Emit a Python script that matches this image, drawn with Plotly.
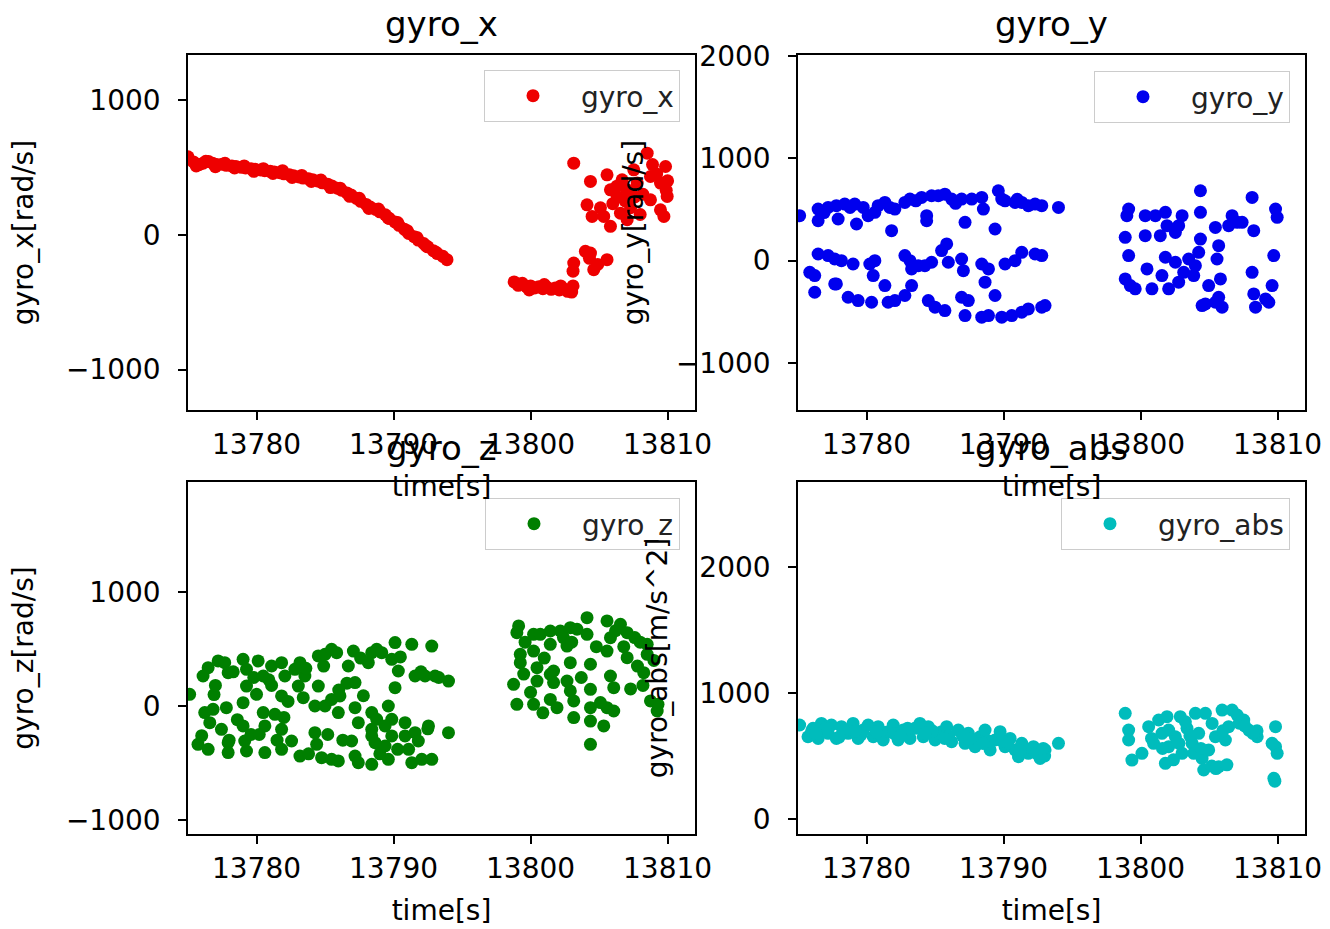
import plotly.graph_objects as go

# ---------------- data ----------------
time_x = [13775.0, 13775.4, 13775.8, 13776.1, 13776.5, 13776.8, 13777.1, 13777.5, 13777.8, 13778.2,
          13778.5, 13778.9, 13779.2, 13779.6, 13779.9, 13780.3, 13780.6, 13781.0, 13781.3, 13781.7,
          13782.0, 13782.4, 13782.7, 13783.1, 13783.4, 13783.8, 13784.1, 13784.5, 13784.8, 13785.2,
          13785.5, 13785.9, 13786.2, 13786.6, 13786.9, 13787.3, 13787.6, 13788.0, 13788.3, 13788.7,
          13789.0, 13789.4, 13789.7, 13790.1, 13790.4, 13790.8, 13791.1, 13791.5, 13791.8, 13792.2,
          13792.5, 13792.9, 13793.2, 13793.6, 13793.9,
          13775.6, 13776.3, 13777.0, 13777.7, 13778.4, 13779.1, 13779.8, 13780.5, 13781.2, 13781.9,
          13782.6, 13783.3, 13784.0, 13784.7, 13785.4, 13786.1, 13786.8, 13787.5, 13788.2, 13788.9,
          13789.6, 13790.3, 13791.0, 13791.7, 13792.4, 13793.1,
          13798.8, 13799.1, 13799.4, 13799.7, 13800.0, 13800.3, 13800.6, 13800.9, 13801.2, 13801.5,
          13801.8, 13802.1, 13802.4, 13802.7, 13803.0, 13803.1, 13799.9, 13801.0, 13802.2,
          13803.1, 13803.15, 13804.3, 13804.37, 13804.61, 13804.9, 13805.58, 13804.0,
          13803.15, 13804.37, 13804.12, 13804.49, 13805.34, 13805.58, 13805.83, 13805.83, 13806.32,
          13806.56, 13806.68, 13807.05, 13807.05, 13807.53, 13807.78, 13808.51, 13808.75, 13808.75,
          13809.48, 13809.48, 13809.85, 13809.73, 13809.97, 13806.0, 13807.3, 13808.2, 13808.0,
          13809.2, 13810.0, 13806.9, 13805.1, 13808.9, 13809.9, 13807.6, 13806.3]
gyro_x = [578, 540, 520, 530, 543, 530, 520, 522, 515, 510,
          506, 500, 495, 490, 485, 480, 475, 470, 466, 460,
          452, 445, 438, 428, 420, 415, 408, 398, 385, 375,
          362, 345, 330, 310, 295, 270, 248, 225, 205, 188,
          170, 148, 120, 95, 70, 40, 10, -15, -40, -65,
          -90, -118, -140, -160, -185,
          510, 545, 505, 530, 495, 510, 470, 490, 455, 475,
          425, 440, 395, 405, 350, 345, 285, 270, 195, 190,
          125, 90, 30, -20, -85, -130,
          -350, -375, -360, -385, -380, -395, -385, -400, -390, -405,
          -395, -410, -400, -420, -425, -380, -410, -370, -380,
          -270, -210, -175, -136, -259, -220, -185, -123,
          531, 395, 222, 136, 136, 444, 333, 62, 284,
          160, 407, 333, 111, 481, 383, 605, 432, 259,
          383, 185, 506, 136, 284, 230, 200, 300, 150,
          450, 400, 250, 200, 520, 330, 280, 360]

time_y = [13775.12, 13776.47, 13776.47, 13777.2, 13777.8, 13777.93, 13778.41, 13779.14, 13779.27, 13779.76,
          13780.12, 13780.61, 13780.85, 13781.34, 13781.7, 13781.83, 13782.07, 13782.8, 13783.17, 13784.02,
          13784.39, 13784.39, 13784.75, 13785.24, 13785.72, 13786.21, 13786.94, 13787.19, 13787.68, 13788.41,
          13788.53, 13789.38, 13789.62, 13789.87, 13790.11, 13790.84, 13791.33, 13791.81, 13792.3, 13792.79,
          13794.01, 13776.9, 13778.8, 13783.6, 13786.5, 13791.0,
          13775.86, 13776.22, 13776.47, 13777.2, 13777.68, 13777.8, 13778.17, 13779.02, 13780.24, 13780.61,
          13780.49, 13781.34, 13782.8, 13783.17, 13783.29, 13783.78, 13784.26, 13784.75, 13785.48, 13785.85,
          13785.97, 13786.94, 13787.07, 13788.41, 13788.9, 13788.65, 13790.11, 13790.84, 13791.33, 13792.3,
          13792.79,
          13776.22, 13777.68, 13778.66, 13779.39, 13780.37, 13781.58, 13782.07, 13782.8, 13783.29, 13784.51,
          13785.0, 13785.72, 13786.94, 13787.19, 13787.43, 13788.41, 13789.38, 13788.9, 13789.87, 13790.6,
          13791.33, 13791.81, 13792.79, 13793.03,
          13799.13, 13799.0, 13798.88, 13799.13, 13798.88, 13799.25, 13799.61, 13800.34, 13800.34, 13800.47,
          13800.83, 13801.08, 13801.44, 13801.56, 13801.81, 13801.81, 13801.93, 13802.05, 13802.54, 13802.54,
          13802.78, 13802.78, 13803.03, 13803.15, 13803.51, 13803.88, 13804.0, 13804.24, 13804.37, 13804.37,
          13804.37, 13804.49, 13804.73, 13804.97, 13805.46, 13805.58, 13805.7, 13805.83, 13805.46, 13805.7,
          13805.95, 13806.43, 13806.68, 13807.05, 13807.41, 13808.14, 13808.26, 13808.14, 13808.26, 13808.39,
          13809.12, 13809.36, 13809.6, 13809.72, 13809.85, 13809.97]
gyro_y = [439, 504, 390, 520, 537, 407, 553, 553, 358, 520,
          439, 472, 537, 569, 520, 293, 504, 569, 602, 618,
          439, 390, 634, 634, 650, 602, 602, 374, 602, 618,
          504, 309, 683, 602, 585, 569, 569, 537, 553, 537,
          520, 470, 520, 585, 560, 600,
          -114, -146, 65, 49, 16, -228, 0, -33, -33, 0,
          -146, -244, 49, 0, -81, -49, -49, -16, 98, 163,
          -16, 16, -98, -33, -81, -211, -33, 0, 81, 65,
          49,
          -309, -228, -358, -390, -407, -407, -390, -341, -244, -390,
          -455, -488, -358, -537, -390, -553, -341, -537, -553, -537,
          -504, -472, -455, -439,
          504, 439, 228, 49, -179, -244, -276, 439, 244, -81,
          -276, 439, 244, -146, 472, 33, 342, -276, -16, 276,
          342, -211, 439, -114, 16, -146, -49, 81, 683, 472,
          211, -439, -423, -244, 325, 16, 146, -179, -407, -358,
          -455, 342, 439, 374, 374, 618, 293, -114, -325, -455,
          -374, -407, -244, 49, 504, 423]

time_z = [13775.12, 13776.1, 13776.47, 13777.2, 13777.68, 13777.93, 13779.02, 13779.27, 13780.12, 13780.49,
          13781.1, 13781.83, 13782.07, 13782.8, 13783.17, 13783.05, 13783.53, 13784.51, 13785.0, 13785.48,
          13785.85, 13786.7, 13787.07, 13787.19, 13788.16, 13788.41, 13788.77, 13789.14, 13789.87, 13790.11,
          13790.35, 13790.11, 13791.33, 13791.57, 13792.79, 13792.3, 13793.03, 13794.01,
          13779.27, 13779.02, 13780.0, 13781.83, 13783.41, 13784.51, 13784.26, 13785.0, 13785.48, 13785.97,
          13786.09, 13787.19, 13787.43, 13788.41, 13788.77, 13789.62, 13789.87, 13790.84, 13791.57, 13792.55,
          13794.01, 13789.38, 13788.41,
          13776.22, 13776.83, 13776.59, 13777.8, 13777.44, 13777.93, 13775.73, 13776.47, 13777.93, 13779.02,
          13779.14, 13779.27, 13780.49, 13780.61, 13780.61, 13781.34, 13781.83, 13781.83, 13782.56, 13783.17,
          13784.26, 13784.39, 13784.75, 13785.48, 13785.97, 13786.94, 13787.19, 13787.43, 13788.41, 13788.65,
          13789.38, 13789.87, 13789.62, 13790.84, 13791.33, 13792.06, 13792.79, 13791.81, 13788.41,
          13776.0, 13776.9, 13778.3, 13778.6, 13779.6, 13780.9, 13781.5, 13782.3, 13783.8, 13784.9,
          13786.3, 13786.6, 13787.8, 13789.0, 13790.5, 13791.1, 13792.0, 13793.3, 13777.0, 13778.0,
          13780.2, 13782.0, 13783.6, 13785.2, 13786.0, 13787.6, 13790.3, 13792.5, 13779.8, 13781.1,
          13799.13, 13799.0, 13800.22, 13800.71, 13801.44, 13802.17, 13802.9, 13803.39, 13804.12, 13804.12,
          13805.58, 13805.83, 13806.56, 13807.05, 13799.25, 13799.25, 13800.22, 13800.47, 13801.44, 13801.68,
          13802.66, 13802.9, 13804.37, 13805.58, 13807.05, 13808.51, 13808.51, 13808.26, 13798.76, 13800.47,
          13801.44, 13801.68, 13802.66, 13802.9, 13804.37, 13805.83, 13806.07, 13799.0, 13800.22, 13801.44,
          13801.93, 13803.15, 13804.37, 13805.58, 13806.07, 13803.15, 13804.37, 13805.34, 13804.37, 13808.75,
          13809.24, 13807.6, 13808.0, 13809.0, 13809.3, 13807.8,
          13799.6, 13800.0, 13801.0, 13802.4, 13803.7, 13804.8, 13805.1, 13806.2, 13807.3, 13808.2,
          13800.9, 13803.0, 13806.8, 13799.5]
gyro_z = [102, 263, 336, 395, 380, 292, 409, 322, 395, 263,
          351, 380, 263, 322, 380, 175, 263, 439, 453, 497,
          468, 351, 482, 205, 380, 468, 497, 468, 409, 556,
          307, 161, 541, 263, 526, 263, 263, 219,
          175, 29, 102, 88, 73, 175, 0, 0, 58, -58,
          88, -15, -146, -58, -117, 0, -117, -146, -234, -175,
          -234, -175, -205,
          -58, -29, -146, -15, -205, -322, -336, -380, -409, -175,
          -307, -395, -58, -175, -409, -73, -205, -380, -307, -439,
          -234, -336, -453, -468, -482, -307, -439, -497, -512, -322,
          -351, -263, -468, -263, -497, -468, -468, -307, -263,
          -260, 100, 300, -120, -250, 230, -300, 40, -420, 350,
          -300, 200, 90, -420, 430, -380, 300, 250, 180, -300,
          -250, -100, 330, -250, 140, 420, -380, -200, 250, 180,
          702, 643, 629, 629, 658, 658, 687, 673, 775, 629,
          746, 599, 716, 643, 453, 380, 482, 336, 541, 307,
          526, 380, 366, 482, 424, 541, 453, 292, 190, 219,
          278, 205, 219, 132, 146, 263, 161, 15, 15, 58,
          -15, 44, -15, -15, -44, -102, -132, -175, -336, 44,
          -44, 600, 560, 400, 15, 350,
          560, 120, 420, 600, 250, 520, 30, 660, 150, 180,
          -60, 560, 520, 280]

time_abs = [13775.12, 13775.73, 13776.1, 13776.47, 13776.71, 13777.2, 13777.44, 13777.8, 13778.17, 13778.66,
            13779.02, 13779.39, 13779.76, 13780.12, 13780.49, 13780.85, 13781.22, 13781.58, 13781.95, 13782.31,
            13782.68, 13783.17, 13783.53, 13783.9, 13784.14, 13784.51, 13785.0, 13785.48, 13785.85, 13786.21,
            13786.7, 13787.19, 13787.43, 13787.92, 13788.28, 13788.65, 13789.02, 13789.38, 13789.75, 13790.11,
            13790.48, 13790.84, 13791.09, 13791.33, 13791.81, 13792.18, 13792.67, 13793.03, 13794.01,
            13776.0, 13777.0, 13778.4, 13779.6, 13781.0, 13782.0, 13783.0, 13784.8, 13786.0, 13787.6,
            13788.9, 13790.3, 13791.5, 13792.4, 13793.0, 13776.3, 13778.0, 13779.2, 13780.7, 13782.5,
            13784.3, 13785.7, 13787.0, 13788.5, 13789.9, 13791.2, 13792.9,
            13798.88, 13799.13, 13799.13, 13799.37, 13800.1, 13800.59, 13800.95, 13801.32, 13801.56, 13801.81,
            13802.05, 13802.54, 13802.9, 13803.03, 13803.39, 13803.76, 13804.0, 13804.24, 13804.49, 13804.61,
            13804.97, 13805.22, 13805.46, 13805.7, 13805.95, 13806.19, 13806.43, 13806.68, 13807.05, 13807.53,
            13807.9, 13808.51, 13809.85, 13809.85, 13809.97, 13809.73, 13809.6, 13804.73, 13803.88, 13803.27,
            13801.93, 13802.05, 13802.4, 13805.2, 13805.5, 13806.3, 13809.8, 13808.5, 13807.2,
            13800.8, 13801.6, 13802.8, 13803.6, 13804.4, 13806.0, 13807.6, 13808.2]
gyro_abs = [746, 653, 720, 640, 759, 680, 746, 640, 733, 680,
            759, 640, 706, 746, 653, 733, 627, 693, 746, 627,
            706, 640, 720, 759, 653, 733, 627, 693, 733, 614,
            706, 601, 680, 574, 653, 706, 548, 627, 693, 574,
            640, 548, 495, 601, 521, 574, 481, 548, 601,
            700, 720, 700, 670, 700, 680, 720, 700, 660, 640,
            620, 600, 560, 520, 500, 680, 650, 700, 690, 660,
            680, 640, 660, 600, 620, 540, 560,
            839, 706, 627, 468, 521, 733, 601, 786, 680, 442,
            574, 653, 812, 521, 720, 601, 839, 680, 481, 389,
            548, 759, 653, 415, 865, 627, 733, 865, 825, 786,
            706, 653, 733, 574, 521, 323, 601, 839, 521, 772,
            812, 706, 470, 420, 400, 430, 300, 700, 760,
            640, 560, 600, 660, 560, 700, 740, 680]

x_tick_values = [13780, 13790, 13800, 13810]
panel_titles = ["gyro_x", "gyro_y", "gyro_z", "gyro_abs"]
y_titles = ["gyro_x[rad/s]", "gyro_y[rad/s]", "gyro_z[rad/s]", "gyro_abs[m/s^2]"]
x_title = "time[s]"

# ---------------- figure ----------------
W, H = 1330, 929
FONT = "DejaVu Sans"
FS = 28
series = [(time_x, gyro_x, "#ee0000"), (time_y, gyro_y, "#0000ee"),
          (time_z, gyro_z, "#007f00"), (time_abs, gyro_abs, "#00bcbc")]

# pixel boxes of each plot area (left, right, top, bottom)
boxes = [(188, 695, 55, 410), (798, 1305, 55, 410), (188, 695, 482, 834), (798, 1305, 482, 834)]
y_ranges = [[-1300, 1333], [-1460, 2010], [-1123, 1965], [-119, 2675]]
legend_pos = [(680, 70), (1290, 71), (680, 498), (1290, 498)]

fig = go.Figure()
for i, (t, v, col) in enumerate(series):
    n = "" if i == 0 else str(i + 1)
    fig.add_trace(go.Scatter(
        x=t, y=v, mode="markers", name=panel_titles[i],
        marker=dict(color=col, size=13, line=dict(width=0)),
        xaxis="x" + n, yaxis="y" + n, legend="legend" + n,
    ))

axis_common = dict(showline=True, mirror=True, linecolor="black", linewidth=1.6,
                   ticks="outside", ticklen=8, tickwidth=1.5, tickcolor="black",
                   showgrid=False, zeroline=False, automargin=False,
                   tickfont=dict(family=FONT, size=FS, color="black"))
layout = dict(width=W, height=H, margin=dict(l=0, r=0, t=0, b=0, autoexpand=False),
              paper_bgcolor="white", plot_bgcolor="white",
              font=dict(family=FONT, size=FS, color="black"), showlegend=True)
annotations = []
for i, (l, r, t, b) in enumerate(boxes):
    n = "" if i == 0 else str(i + 1)
    layout["xaxis" + n] = dict(axis_common, domain=[l / W, r / W], anchor="y" + n,
                               range=[13775, 13812], tickvals=x_tick_values, tickformat="d",
                               ticklabelstandoff=1,
                               title=dict(text=x_title, font=dict(family=FONT, size=FS), standoff=16))
    layout["yaxis" + n] = dict(axis_common, domain=[1 - b / H, 1 - t / H], anchor="x" + n,
                               range=y_ranges[i], dtick=1000, ticklabelstandoff=12,
                               title=dict(text=y_titles[i], font=dict(family=FONT, size=FS), standoff=24))
    lx, ly = legend_pos[i]
    layout["legend" + n] = dict(x=lx / W, y=1 - ly / H, xanchor="right", yanchor="top",
                                xref="paper", yref="paper",
                                bgcolor="rgba(255,255,255,0.8)", bordercolor="#cccccc", borderwidth=1,
                                font=dict(family=FONT, size=FS, color="#222222"), itemwidth=86)
    ty = 24 if i < 2 else 448
    annotations.append(dict(text=panel_titles[i], x=(l + r) / 2 / W, y=1 - ty / H,
                            xref="paper", yref="paper", xanchor="center", yanchor="middle",
                            showarrow=False, font=dict(family=FONT, size=34, color="black")))
layout["annotations"] = annotations
fig.update_layout(**layout)
fig.write_html("out.html")
